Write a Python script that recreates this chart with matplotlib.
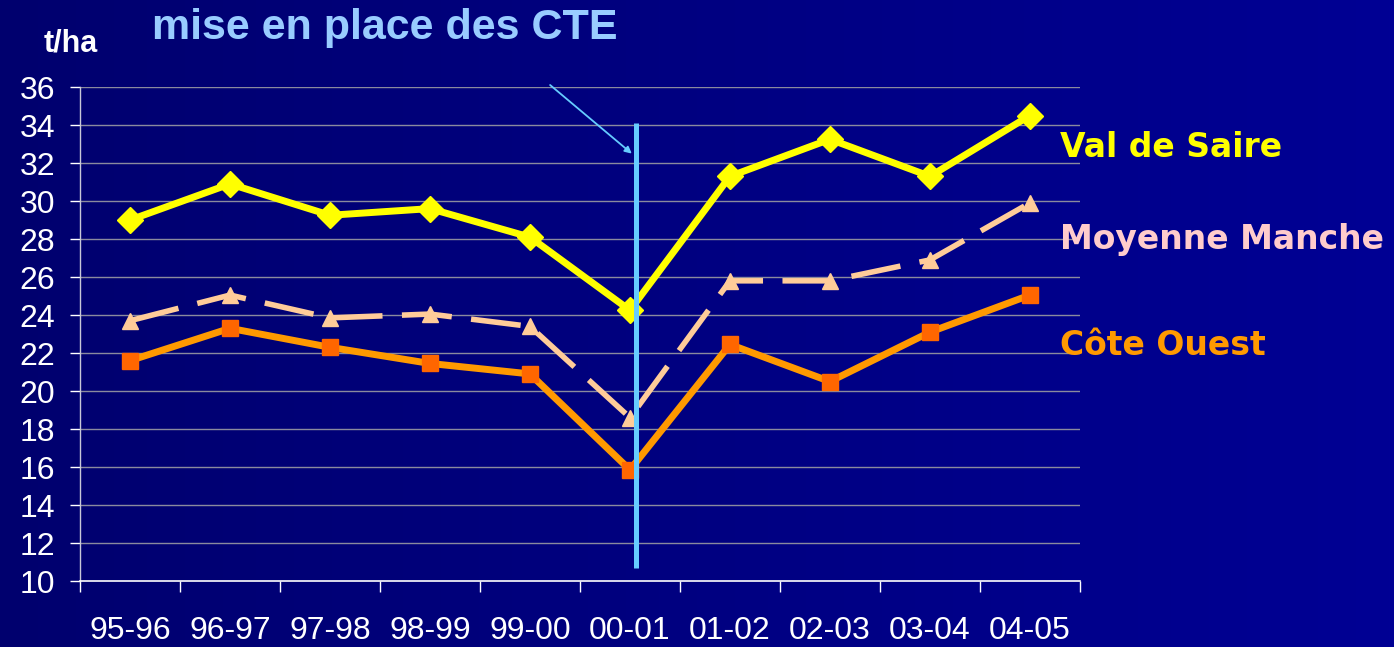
import numpy as np
import matplotlib
matplotlib.use("Agg")
import matplotlib.pyplot as plt

# data (t/ha)
seasons = ["95-96", "96-97", "97-98", "98-99", "99-00",
           "00-01", "01-02", "02-03", "03-04", "04-05"]
val_de_saire = [29.0, 30.9, 29.25, 29.6, 28.1, 24.25, 31.3, 33.25, 31.3, 34.5]
moyenne_manche = [23.7, 25.05, 23.85, 24.05, 23.4, 18.6, 25.8, 25.8, 26.9, 29.9]
cote_ouest = [21.6, 23.3, 22.3, 21.45, 20.9, 15.85, 22.45, 20.5, 23.1, 25.05]
yticks = list(range(10, 37, 2))

plt.rcParams['font.family'] = ['Liberation Sans', 'DejaVu Sans']

fig = plt.figure(figsize=(13.94, 6.47), dpi=100)

# dark blue gradient background
bg = fig.add_axes([0, 0, 1, 1], zorder=-10)
grad = np.linspace(0, 1, 256).reshape(1, -1)
cmap = matplotlib.colors.LinearSegmentedColormap.from_list("bg", ["#00006E", "#000094"])
bg.imshow(grad, aspect="auto", cmap=cmap, extent=[0, 1, 0, 1])
bg.set_axis_off()

ax = fig.add_axes([0.0574, 0.102, 0.7173, 0.7635])
ax.set_facecolor("none")
x = np.arange(len(seasons))

ax.set_xlim(-0.5, len(seasons) - 0.5)
ax.set_ylim(10, 36)

# grid
for yv in yticks[1:]:
    ax.axhline(yv, color="#8A8A9E", lw=1, zorder=1)

# vertical line (CTE) + arrow
cte_x = 5.06
ax.plot([cte_x, cte_x], [10.7, 34.1], color="#66CCFF", lw=3.6, zorder=5,
        solid_capstyle="butt")
ax.annotate("", xy=(5.04, 32.4), xytext=(4.18, 36.2), annotation_clip=False,
            arrowprops=dict(arrowstyle="-|>", color="#66CCFF", lw=1.3,
                            mutation_scale=10))

# series
ax.plot(x, val_de_saire, color="#FFFF00", lw=5, marker="D", ms=13,
        mec="#FFFF00", zorder=4)
ax.plot(x, moyenne_manche, color="#FFCC99", lw=4, dashes=(9, 3.5),
        marker="^", ms=11, mec="#FFCC99", zorder=3)
ax.plot(x, cote_ouest, color="#FF9900", lw=5, marker="s", ms=11,
        mfc="#FF6600", mec="#FF6600", zorder=3)

# axes styling
for s in ["top", "right"]:
    ax.spines[s].set_visible(False)
ax.spines["left"].set_color("#C8C8D8")
ax.spines["bottom"].set_color("white")
ax.spines["left"].set_linewidth(1)
ax.spines["bottom"].set_linewidth(1.2)

ax.set_yticks(yticks)
ax.tick_params(axis="y", colors="white", labelsize=23, length=7, width=1, pad=11)
ax.set_xticks(np.arange(-0.5, len(seasons)), labels=[""] * (len(seasons) + 1))
ax.tick_params(axis="x", which="major", colors="white", length=8, width=1)
ax.set_xticks(x, labels=seasons, minor=True)
ax.tick_params(axis="x", which="minor", colors="white", labelsize=23,
               length=0, pad=25)

# texts
fig.text(0.109, 0.957, "mise en place des CTE", color="#99CCFF",
         fontsize=31, fontweight="bold", va="center", ha="left")
fig.text(0.031, 0.933, "t/ha", color="white", fontsize=22,
         fontweight="bold", va="center", ha="left")

lab_font = dict(fontsize=23.8, fontweight="bold", family="DejaVu Sans",
                va="center", ha="left", clip_on=False)
ax.text(9.3, 32.8, "Val de Saire", color="#FFFF00", **lab_font)
ax.text(9.3, 27.95, "Moyenne Manche", color="#FFCCCC", **lab_font)
ax.text(9.3, 22.4, "Côte Ouest", color="#FF9900", **lab_font)

fig.savefig("out.png", dpi=100)
